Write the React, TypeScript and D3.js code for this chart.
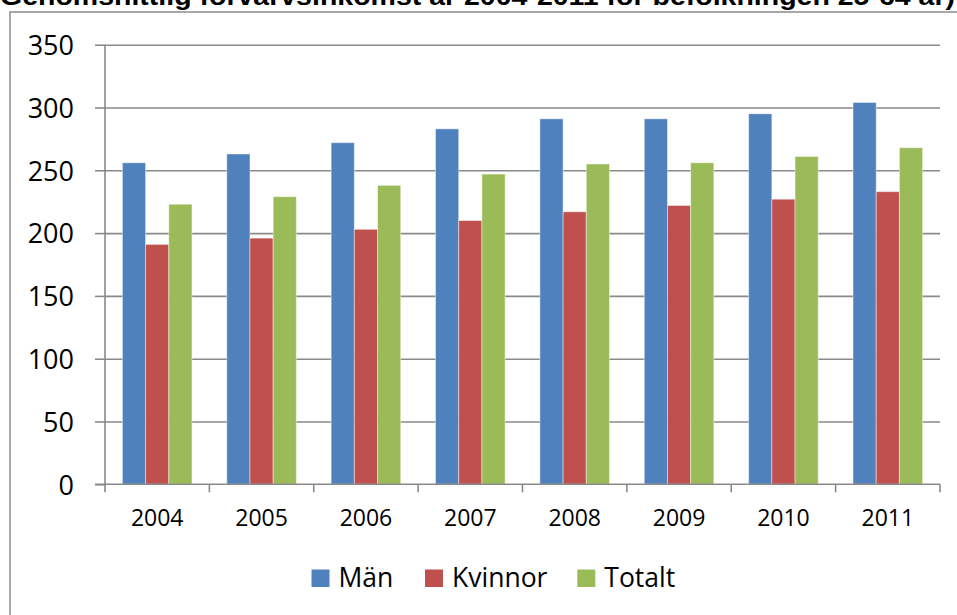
import { useRef, useEffect } from "react";
import * as d3 from "d3";

const YEARS = ["2004", "2005", "2006", "2007", "2008", "2009", "2010", "2011"];
const MAN = [256, 263, 272, 283, 291, 291, 295, 304];
const KVINNOR = [191, 196, 203, 210, 217, 222, 227, 233];
const TOTALT = [223, 229, 238, 247, 255, 256, 261, 268];
const Y_TICKS = [0, 50, 100, 150, 200, 250, 300, 350];

const SERIES = [
  { key: "man", label: "Män", color: "#4f81bd", values: MAN },
  { key: "kvinnor", label: "Kvinnor", color: "#c0504d", values: KVINNOR },
  { key: "totalt", label: "Totalt", color: "#9bbb59", values: TOTALT },
];

const TITLE = "Genomsnittlig förvärvsinkomst år 2004-2011 för befolkningen 25-64 år)";

export default function App() {
  const svgRef = useRef<SVGSVGElement | null>(null);

  useEffect(() => {
    const W = 957;
    const H = 615;
    const m = { top: 44.7, right: 17, bottom: 130.7, left: 105 };
    const w = W - m.left - m.right;
    const h = H - m.top - m.bottom;
    const font = "'Open Sans', sans-serif";
    const gridColor = "#8a8a8a";

    const root = d3.select(svgRef.current);
    root.selectAll("*").remove();
    root.attr("width", W).attr("height", H);

    // Frame and title (title is cropped at the top, as in the source)
    root.append("rect")
      .attr("x", 10).attr("y", 12)
      .attr("width", W + 10).attr("height", H + 10)
      .attr("fill", "#fff").attr("stroke", "#8c8c8c").attr("stroke-width", 1.5);

    root.append("text")
      .attr("x", 0).attr("y", 5)
      .attr("textLength", 955).attr("lengthAdjust", "spacingAndGlyphs")
      .attr("font-family", "'Liberation Sans', Arial, sans-serif")
      .attr("font-weight", 700).attr("font-size", 26)
      .attr("fill", "#000")
      .text(TITLE);

    const svg = root.append("g").attr("transform", `translate(${m.left},${m.top})`);

    const x = d3.scaleBand<string>().domain(YEARS).range([0, w]).padding(0);
    const xi = d3.scaleBand<string>()
      .domain(SERIES.map((s) => s.key))
      .range([0, x.bandwidth()])
      .paddingInner(0).paddingOuter(0.75);
    const y = d3.scaleLinear().domain([0, 350]).range([h, 0]);

    // Grid
    svg.append("g")
      .call(d3.axisLeft(y).tickValues(Y_TICKS.slice(1)).tickSize(-w).tickFormat(() => ""))
      .call((g) => {
        g.select(".domain").remove();
        g.selectAll("line").attr("stroke", gridColor).attr("stroke-width", 1.6);
      });

    // Bars
    SERIES.forEach((s) => {
      svg.append("g")
        .selectAll("rect")
        .data(s.values)
        .join("rect")
        .attr("x", (_, i) => (x(YEARS[i]) ?? 0) + (xi(s.key) ?? 0))
        .attr("y", (d) => y(d))
        .attr("width", xi.bandwidth())
        .attr("height", (d) => h - y(d))
        .attr("fill", s.color)
        .attr("stroke", "rgba(255,255,255,0.45)")
        .attr("stroke-width", 1);
    });

    // Y axis
    svg.append("g")
      .call(d3.axisLeft(y).tickValues(Y_TICKS).tickSize(10).tickPadding(21))
      .call((g) => {
        g.select(".domain").attr("stroke", gridColor).attr("stroke-width", 1.6)
          .attr("d", `M0,0V${h}`);
        g.selectAll("line").attr("stroke", gridColor).attr("stroke-width", 1.6);
        g.selectAll("text").attr("fill", "#000").attr("font-size", 27)
          .attr("font-family", font).attr("dy", "0.36em");
      });

    // X axis
    svg.append("g")
      .attr("transform", `translate(0,${h})`)
      .call(d3.axisBottom(x).tickSize(0).tickPadding(0))
      .call((g) => {
        g.select(".domain").attr("stroke", gridColor).attr("stroke-width", 1.6)
          .attr("d", `M-10,0H${w}`);
        g.selectAll("line").remove();
        g.selectAll("text").attr("fill", "#000").attr("font-size", 23)
          .attr("font-family", font).attr("y", 41.5).attr("dy", 0);
      });

    // Category tick marks at band edges
    svg.append("g")
      .selectAll("line")
      .data([...YEARS.map((d) => x(d) ?? 0), w])
      .join("line")
      .attr("x1", (d) => d).attr("x2", (d) => d)
      .attr("y1", h).attr("y2", h + 8)
      .attr("stroke", gridColor).attr("stroke-width", 1.6);

    // Legend
    const legend = root.append("g").attr("transform", "translate(0,587)");
    const legendX = [311.5, 425, 577.3];
    SERIES.forEach((s, i) => {
      legend.append("rect")
        .attr("x", legendX[i]).attr("y", -17.5)
        .attr("width", 18).attr("height", 17.5)
        .attr("fill", s.color);
      legend.append("text")
        .attr("x", legendX[i] + 27).attr("y", 0)
        .attr("font-family", font).attr("font-size", 26.5)
        .attr("fill", "#000")
        .text(s.label);
    });
  }, []);

  return (
    <div style={{ position: "fixed", left: 0, top: 0, width: 957, height: 615, background: "#fff" }}>
      <svg ref={svgRef} style={{ display: "block" }} />
    </div>
  );
}
